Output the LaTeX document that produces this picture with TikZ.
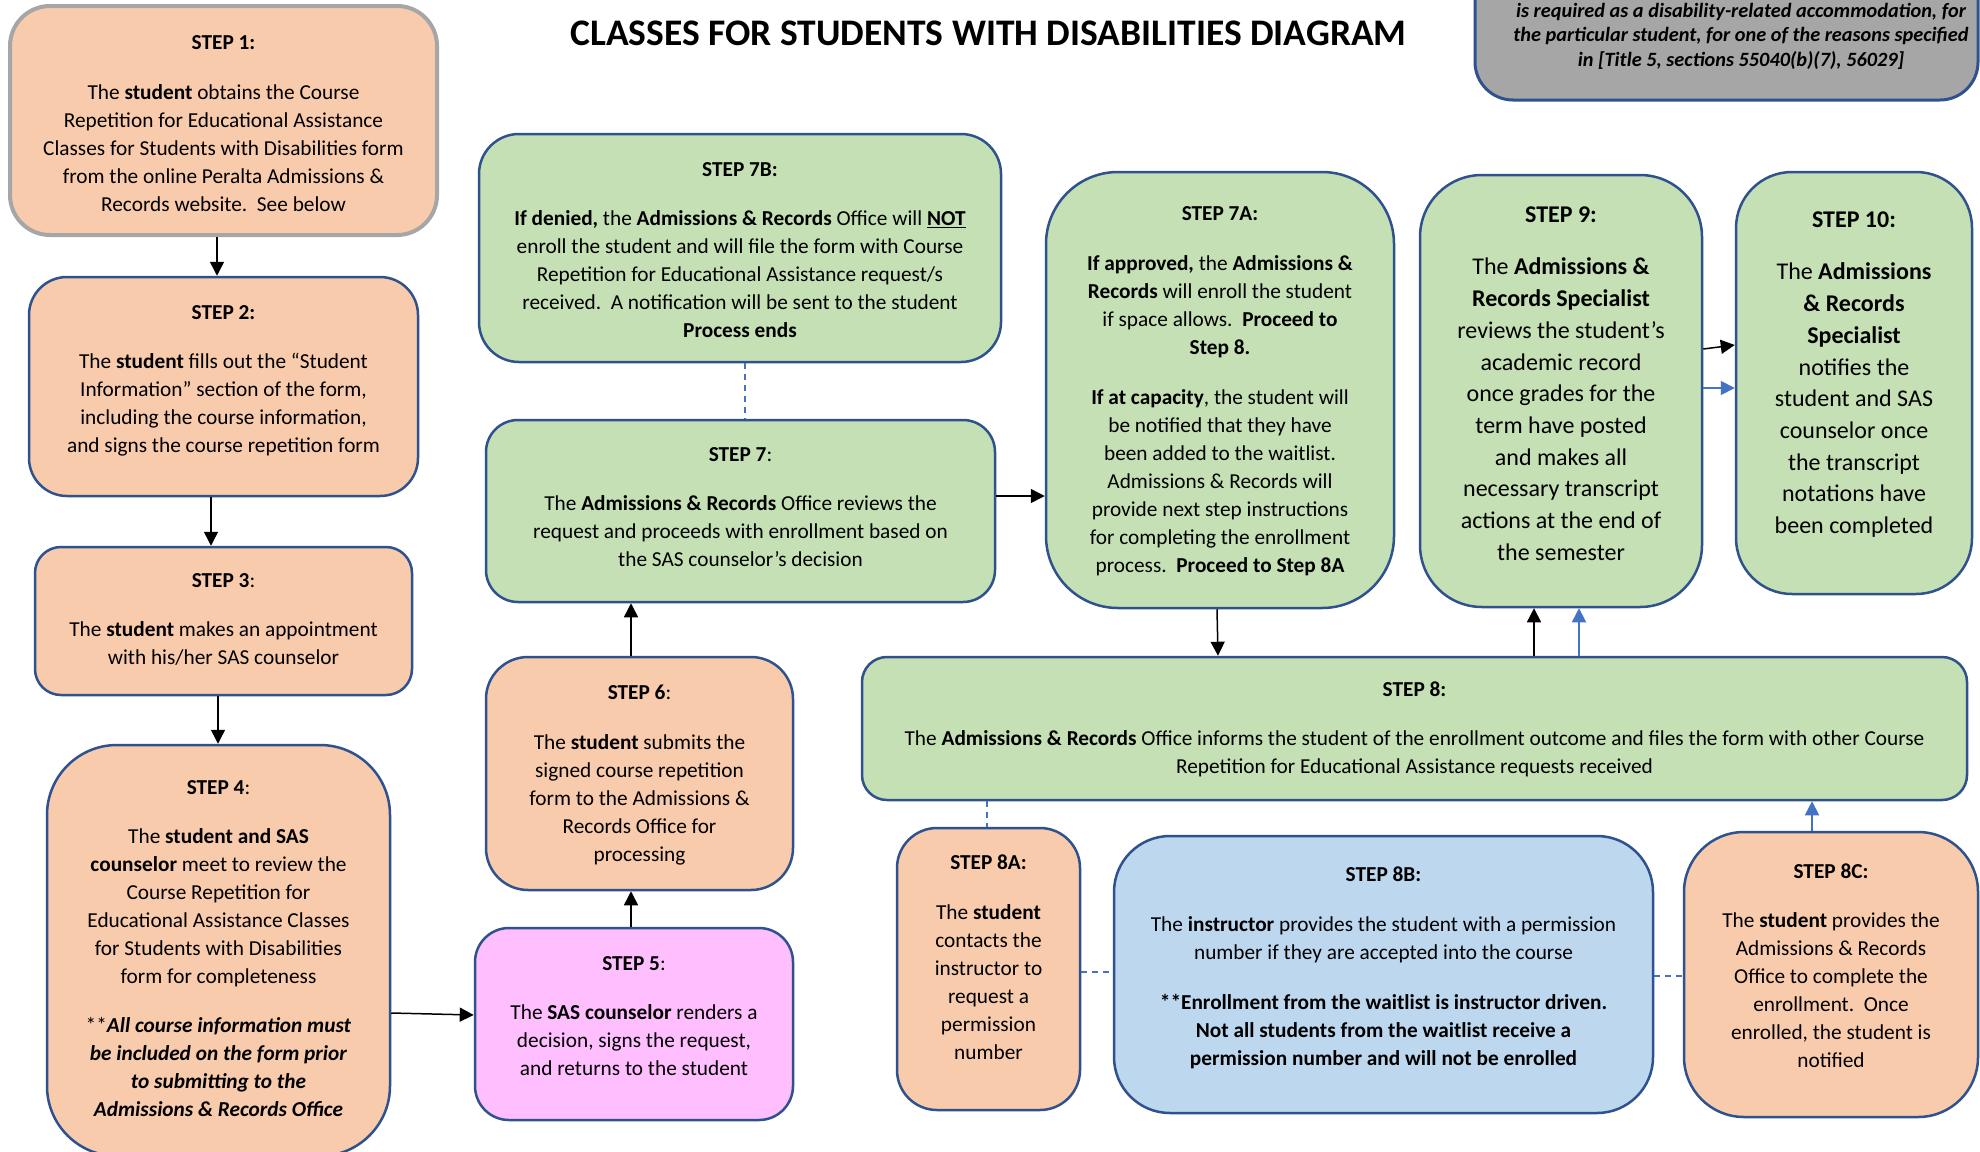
\documentclass[tikz,border=0pt]{standalone}
\usepackage{fontspec}
\setmainfont{Carlito}
\usetikzlibrary{arrows.meta,calc}
\definecolor{peach}{HTML}{F8CBAD}
\definecolor{mint}{HTML}{C5E0B4}
\definecolor{sky}{HTML}{BDD7EE}
\definecolor{pinkish}{HTML}{FFBFFF}
\definecolor{greyfill}{HTML}{A6A6A6}
\definecolor{bordc}{HTML}{2F528F}
\definecolor{conn}{HTML}{4472C4}
\tikzset{
  box/.style={draw=bordc, line width=2.5pt, inner sep=0pt},
  peachbox/.style={box, fill=peach},
  greenbox/.style={box, fill=mint},
  bluebox/.style={box, fill=sky},
  pinkbox/.style={box, fill=pinkish},
  txt/.style={align=center, inner sep=0pt, font=\fontsize{21.3}{28}\selectfont},
  bigtxt/.style={align=center, inner sep=0pt, font=\fontsize{24}{31.7}\selectfont},
  arr/.style={line width=1.5pt, -{Triangle[length=14pt,width=14pt]}},
  barr/.style={conn, line width=1.8pt, -{Triangle[length=14pt,width=14pt]}},
  dline/.style={conn, line width=2pt, dash pattern=on 6pt off 5pt},
}
\begin{document}
\begin{tikzpicture}[x=1pt,y=-1pt]
\useasboundingbox (0,0) rectangle (1980,1151);
\fill[white] (0,0) rectangle (1980,1151);
\clip (0,0) rectangle (1980,1151);

% title
\node[inner sep=0pt] (title) at (988.5,33) {\resizebox{836pt}{!}{\bfseries CLASSES FOR STUDENTS WITH DISABILITIES DIAGRAM}};

% grey note box (partly off the page)
\node[draw=bordc, line width=3pt, fill=greyfill, minimum width=503pt, minimum height=260pt, rounded corners=38pt, inner sep=0pt] (note) at (1726.5,-30) {};
\node[align=center, inner sep=0pt, font=\fontsize{20.3}{24.5}\selectfont\bfseries\itshape] (notet) at (1741,36) {is required as a disability-related accommodation, for\\the particular student, for one of the reasons specified\\in [Title 5, sections 55040(b)(7), 56029]};

% boxes
\node[box, draw=greyfill, line width=4pt, fill=peach, minimum width=427pt, minimum height=229pt, rounded corners=40pt] (s1) at (223.5,120.5) {};
\node[txt] (s1t) at (223.5,123.5) {\textbf{STEP 1:}\\[21.5pt]The \textbf{student} obtains the Course\\Repetition for Educational Assistance\\Classes for Students with Disabilities form\\from the online Peralta Admissions \&\\Records website.\ \ See below};

\node[peachbox, minimum width=389pt, minimum height=219pt, rounded corners=38pt] (s2) at (223.5,386.5) {};
\node[txt] (s2t) at (223.5,381) {\textbf{STEP 2:}\\[21.5pt]The \textbf{student} fills out the “Student\\Information” section of the form,\\including the course information,\\and signs the course repetition form};

\node[peachbox, minimum width=377pt, minimum height=148pt, rounded corners=26pt] (s3) at (223.5,621) {};
\node[txt] (s3t) at (223.5,619.5) {\textbf{STEP 3}:\\[21.5pt]The \textbf{student} makes an appointment\\with his/her SAS counselor};

\node[peachbox, minimum width=343pt, minimum height=411pt, rounded corners=70pt] (s4) at (218.5,950.5) {};
\node[txt] (s4t) at (218.5,948.5) {\textbf{STEP 4}:\\[21pt]The \textbf{student and SAS}\\\textbf{counselor} meet to review the\\Course Repetition for\\Educational Assistance Classes\\for Students with Disabilities\\form for completeness\\[21pt]**\textbf{\textit{All course information must}}\\\textbf{\textit{be included on the form prior}}\\\textbf{\textit{to submitting to the}}\\\textbf{\textit{Admissions \& Records Office}}};

\node[pinkbox, minimum width=318pt, minimum height=192pt, rounded corners=34pt] (s5) at (634,1024) {};
\node[txt] (s5t) at (634,1016) {\textbf{STEP 5}:\\[21.5pt]The \textbf{SAS counselor} renders a\\decision, signs the request,\\and returns to the student};

\node[peachbox, minimum width=307pt, minimum height=233pt, rounded corners=42pt] (s6) at (639.5,773.5) {};
\node[txt] (s6t) at (639.5,775) {\textbf{STEP 6}:\\[21.5pt]The \textbf{student} submits the\\signed course repetition\\form to the Admissions \&\\Records Office for\\processing};

\node[greenbox, minimum width=509pt, minimum height=182pt, rounded corners=32pt] (s7) at (740.5,511) {};
\node[txt] (s7t) at (740.5,507) {\textbf{STEP 7}:\\[21.5pt]The \textbf{Admissions \& Records} Office reviews the\\request and proceeds with enrollment based on\\the SAS counselor’s decision};

\node[greenbox, minimum width=522pt, minimum height=228pt, rounded corners=40pt] (s7b) at (740,248) {};
\node[txt] (s7bt) at (740,250) {\textbf{STEP 7B:}\\[21.5pt]\textbf{If denied,} the \textbf{Admissions \& Records} Office will \textbf{\underline{NOT}}\\enroll the student and will file the form with Course\\Repetition for Educational Assistance request/s\\received.\ \ A notification will be sent to the student\\\textbf{Process ends}};

\node[greenbox, minimum width=348pt, minimum height=436pt, rounded corners=72pt] (s7a) at (1220,390) {};
\node[txt] (s7at) at (1220,391) {\textbf{STEP 7A:}\\[22pt]\textbf{If approved,} the \textbf{Admissions \&}\\\textbf{Records} will enroll the student\\if space allows.\ \ \textbf{Proceed to}\\\textbf{Step 8.}\\[22pt]\textbf{If at capacity}, the student will\\be notified that they have\\been added to the waitlist.\\Admissions \& Records will\\provide next step instructions\\for completing the enrollment\\process.\ \ \textbf{Proceed to Step 8A}};

\node[greenbox, minimum width=282pt, minimum height=432pt, rounded corners=62pt] (s9) at (1561,391) {};
\node[bigtxt] (s9t) at (1561,383.5) {\textbf{STEP 9:}\\[21pt]The \textbf{Admissions \&}\\\textbf{Records Specialist}\\reviews the student’s\\academic record\\once grades for the\\term have posted\\and makes all\\necessary transcript\\actions at the end of\\the semester};

\node[greenbox, minimum width=236pt, minimum height=422pt, rounded corners=56pt] (s10) at (1854,383) {};
\node[bigtxt] (s10t) at (1854,374.5) {\textbf{STEP 10:}\\[21pt]The \textbf{Admissions}\\\textbf{\& Records}\\\textbf{Specialist}\\notifies the\\student and SAS\\counselor once\\the transcript\\notations have\\been completed};

\node[greenbox, minimum width=1105pt, minimum height=143pt, rounded corners=25pt] (s8) at (1414.5,728.5) {};
\node[txt] (s8t) at (1414.5,729.5) {\textbf{STEP 8:}\\[21.5pt]The \textbf{Admissions \& Records} Office informs the student of the enrollment outcome and files the form with other Course\\Repetition for Educational Assistance requests received};

\node[peachbox, minimum width=183pt, minimum height=282pt, rounded corners=40pt] (s8a) at (988.5,969) {};
\node[txt] (s8at) at (988.5,957) {\textbf{STEP 8A:}\\[21.5pt]The \textbf{student}\\contacts the\\instructor to\\request a\\permission\\number};

\node[bluebox, minimum width=539pt, minimum height=277pt, rounded corners=56pt] (s8b) at (1383.5,974.5) {};
\node[txt] (s8bt) at (1383.5,967.5) {\textbf{STEP 8B:}\\[22pt]The \textbf{instructor} provides the student with a permission\\number if they are accepted into the course\\[22pt]\textbf{**Enrollment from the waitlist is instructor driven.}\\\textbf{Not all students from the waitlist receive a}\\\textbf{permission number and will not be enrolled}};

\node[peachbox, minimum width=294pt, minimum height=285pt, rounded corners=60pt] (s8c) at (1831,974.5) {};
\node[txt] (s8ct) at (1831,965.5) {\textbf{STEP 8C:}\\[21.5pt]The \textbf{student} provides the\\Admissions \& Records\\Office to complete the\\enrollment.\ \ Once\\enrolled, the student is\\notified};

% connectors
\draw[arr] (s1.south -| 217,0) -- (s2.north -| 217,0);
\draw[arr] (s2.south -| 211,0) -- (s3.north -| 211,0);
\draw[arr] (s3.south -| 218,0) -- (s4.north -| 218,0);
\draw[arr] (s4.east |- 0,1013) -- (s5.west |- 0,1015);
\draw[arr] (s5.north -| 631,0) -- (s6.south -| 631,0);
\draw[arr] (s6.north -| 631,0) -- (s7.south -| 631,0);
\draw[arr] (s7.east |- 0,496) -- (s7a.west |- 0,496);
\draw[dline] (s7b.south -| 745,0) -- (s7.north -| 745,0);
\draw[arr] (s7a.south -| 1217,0) -- (s8.north -| 1218,0);
\draw[arr] (s8.north -| 1534,0) -- (s9.south -| 1534,0);
\draw[barr] (s8.north -| 1579,0) -- (s9.south -| 1579,0);
\draw[arr] (s9.east |- 0,349) -- (s10.west |- 0,345);
\draw[barr] (s9.east |- 0,388) -- (s10.west |- 0,388);
\draw[dline] (s8.south -| 987,0) -- (s8a.north -| 987,0);
\draw[dline] (s8a.east |- 0,972) -- (s8b.west |- 0,972);
\draw[dline] (s8b.east |- 0,976) -- (s8c.west |- 0,976);
\draw[barr] (s8c.north -| 1812,0) -- (s8.south -| 1812,0);
\end{tikzpicture}
\end{document}
